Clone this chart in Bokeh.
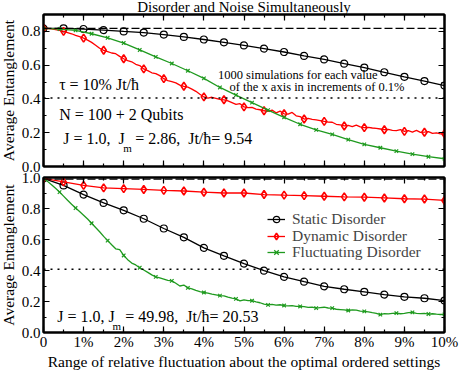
from bokeh.plotting import figure
from bokeh.models import (Range1d, FixedTicker, LinearAxis, Span, Label, Legend, LegendItem,
                          PrintfTickFormatter)
from bokeh.layouts import column
from bokeh.embed import file_html
from bokeh.resources import INLINE

# ---------------- data ----------------
title_text = "Disorder and Noise Simultaneously"
y_label = "Average Entanglement"
x_label = "Range of relative fluctuation about the optimal ordered settings"
x_tick_values = [0, 1, 2, 3, 4, 5, 6, 7, 8, 9, 10]
x_tick_labels = ["0", "1%", "2%", "3%", "4%", "5%", "6%", "7%", "8%", "9%", "10%"]
series_names = ["Static Disorder", "Dynamic Disorder", "Fluctuating Disorder"]

# x positions (% fluctuation)
x_half = [i * 0.5 for i in range(21)]
x_tenth = [i * 0.1 for i in range(101)]
x_fourtenth = [i * 0.4 for i in range(26)]

# ---- top panel (tau = 10% Jt/hbar, Jm = 2.86) ----
top_static = [0.818, 0.818, 0.814, 0.808, 0.800, 0.793, 0.781, 0.767, 0.752, 0.735, 0.717,
              0.698, 0.678, 0.655, 0.634, 0.609, 0.585, 0.558, 0.531, 0.506, 0.479]
top_dynamic = [0.818, 0.817, 0.815, 0.811, 0.806, 0.800, 0.793, 0.786, 0.777, 0.769,
               0.760, 0.748, 0.735, 0.718, 0.700, 0.688, 0.680, 0.672, 0.668, 0.652,
               0.638, 0.627, 0.620, 0.605, 0.598, 0.578, 0.568, 0.555, 0.550, 0.538,
               0.520, 0.508, 0.502, 0.495, 0.482, 0.475, 0.470, 0.458, 0.445, 0.428,
               0.412, 0.405, 0.410, 0.404, 0.397, 0.395, 0.388, 0.378, 0.368, 0.372,
               0.353, 0.348, 0.350, 0.340, 0.336, 0.330, 0.327, 0.334, 0.318, 0.328,
               0.312, 0.310, 0.320, 0.300, 0.295, 0.281, 0.285, 0.279, 0.276, 0.272,
               0.267, 0.263, 0.262, 0.250, 0.246, 0.240, 0.243, 0.236, 0.245, 0.235,
               0.230, 0.232, 0.228, 0.226, 0.222, 0.218, 0.220, 0.214, 0.212, 0.218,
               0.208, 0.212, 0.204, 0.214, 0.202, 0.203, 0.207, 0.196, 0.199, 0.193,
               0.194]
top_fluct = [0.818, 0.814, 0.806, 0.786, 0.762, 0.731, 0.690, 0.649, 0.610, 0.567, 0.522,
             0.468, 0.423, 0.378, 0.334, 0.291, 0.250, 0.217, 0.190, 0.159, 0.131, 0.111,
             0.091, 0.073, 0.058, 0.046]
top_ordered = 0.818
top_threshold = 0.405

# ---- bottom panel (Jm = 49.98) ----
bot_static = [0.995, 0.949, 0.890, 0.836, 0.788, 0.734, 0.671, 0.614, 0.546, 0.495, 0.445,
              0.399, 0.359, 0.328, 0.298, 0.279, 0.262, 0.245, 0.230, 0.221, 0.206]
bot_dynamic = [0.995, 0.972, 0.949, 0.933, 0.928, 0.923, 0.917, 0.913, 0.905, 0.900, 0.900,
               0.890, 0.886, 0.883, 0.879, 0.875, 0.873, 0.868, 0.863, 0.861, 0.852]
bot_fluct = [0.995, 0.975, 0.953, 0.930, 0.906, 0.880, 0.853, 0.827, 0.803, 0.780,
             0.757, 0.732, 0.705, 0.677, 0.650, 0.620, 0.593, 0.566, 0.540, 0.534,
             0.497, 0.470, 0.448, 0.436, 0.418, 0.403, 0.388, 0.372, 0.359, 0.352,
             0.344, 0.336, 0.333, 0.318, 0.300, 0.306, 0.288, 0.282, 0.272, 0.264,
             0.258, 0.254, 0.248, 0.243, 0.238, 0.236, 0.228, 0.222, 0.217, 0.204,
             0.210, 0.206, 0.205, 0.197, 0.192, 0.183, 0.178, 0.182, 0.176, 0.179,
             0.174, 0.172, 0.174, 0.169, 0.168, 0.167, 0.162, 0.164, 0.157, 0.160,
             0.163, 0.158, 0.157, 0.150, 0.148, 0.146, 0.142, 0.146, 0.144, 0.138,
             0.136, 0.133, 0.128, 0.124, 0.115, 0.122, 0.120, 0.124, 0.125, 0.121,
             0.123, 0.128, 0.130, 0.124, 0.122, 0.124, 0.119, 0.121, 0.118, 0.116,
             0.117]
bot_ordered = 0.99
bot_threshold = 0.408

FONT = "Liberation Serif"
BLACK = "#000000"
RED = "#ff0000"
GREEN = "#1f9a1f"
NB = "\u00a0"


def hidden_axis(ticker):
    return LinearAxis(ticker=ticker, major_label_text_font_size="1px",
                      major_label_text_color=None, major_label_standoff=0,
                      major_tick_in=6, major_tick_out=0, minor_tick_in=3, minor_tick_out=0,
                      axis_line_width=2, major_tick_line_width=1.2, minor_tick_line_width=1.2)


def style_axes(p, y_ticks, y_minor, show_x_labels):
    x_minor = [i * 0.5 for i in range(21)]
    p.xaxis.ticker = FixedTicker(ticks=x_tick_values, minor_ticks=x_minor)
    p.yaxis.ticker = FixedTicker(ticks=y_ticks, minor_ticks=y_minor)
    p.yaxis.formatter = PrintfTickFormatter(format="%.1f")
    p.xaxis.major_label_overrides = {v: s for v, s in zip(x_tick_values, x_tick_labels)}
    for ax in p.xaxis + p.yaxis:
        ax.major_tick_in = 6
        ax.major_tick_out = 0
        ax.minor_tick_in = 3
        ax.minor_tick_out = 0
        ax.axis_line_width = 2
        ax.major_tick_line_width = 1.2
        ax.minor_tick_line_width = 1.2
        ax.major_label_text_font = FONT
        ax.major_label_text_font_size = "15px"
        ax.major_label_text_color = "black"
        ax.axis_label_text_font = FONT
        ax.axis_label_text_font_size = "15.5px"
        ax.axis_label_text_font_style = "normal"
        ax.axis_label_text_color = "black"
    p.yaxis.major_label_standoff = 3
    p.yaxis.axis_label = y_label
    p.yaxis.axis_label_standoff = 2
    if show_x_labels:
        p.xaxis.major_label_standoff = 1
        p.xaxis.axis_label = x_label
        p.xaxis.axis_label_standoff = 0
    else:
        p.xaxis.major_label_text_font_size = "1px"
        p.xaxis.major_label_text_color = None
        p.xaxis.major_label_standoff = 0
    # mirrored ticks on top and right
    p.add_layout(hidden_axis(FixedTicker(ticks=x_tick_values, minor_ticks=x_minor)), "above")
    p.add_layout(hidden_axis(FixedTicker(ticks=y_ticks, minor_ticks=y_minor)), "right")
    p.xgrid.visible = False
    p.ygrid.visible = False
    p.outline_line_color = "black"
    p.outline_line_width = 2
    p.background_fill_color = "white"


def draw_series(p, xs, ys, step, color, marker, size, lw_marker):
    ln = p.line(xs, ys, line_color=color, line_width=1.3)
    sc = p.scatter(xs[::step], ys[::step], marker=marker, size=size, line_color=color,
                   fill_color=None, line_width=lw_marker)
    return ln, sc


def text(p, x, y, s, size="16px", align="left"):
    p.add_layout(Label(x=x, y=y, text=s, text_font=FONT, text_font_size=size,
                       text_baseline="middle", text_align=align, text_color="black"))


# ---------------- top figure ----------------
p1 = figure(width=463, height=181, output_backend="svg", toolbar_location=None,
            x_range=Range1d(0, 10), y_range=Range1d(0, 0.9),
            min_border_left=41, min_border_right=15, min_border_top=0, min_border_bottom=11)
p1.title.text = title_text
p1.title.align = "center"
p1.title.offset = 5
p1.title.standoff = 0
p1.title.text_font = FONT
p1.title.text_font_size = "15px"
p1.title.text_font_style = "normal"
p1.title.text_color = "black"
p1.border_fill_color = "white"
style_axes(p1, [0, 0.2, 0.4, 0.6, 0.8], [i * 0.1 for i in range(10)], False)
p1.add_layout(Span(location=top_ordered, dimension="width", line_color="black",
                   line_dash="8 3", line_width=1.2))
p1.add_layout(Span(location=top_threshold, dimension="width", line_color="black",
                   line_dash="2 5", line_width=1.5))
draw_series(p1, x_half, top_static, 1, BLACK, "circle", 7, 1.2)
draw_series(p1, x_tenth, top_dynamic, 5, RED, "diamond", 8, 1.6)
draw_series(p1, x_fourtenth, top_fluct, 1, GREEN, "x", 5, 1.2)

text(p1, 0.39, 0.484, "τ = 10% Jt/ħ")
text(p1, 0.39, 0.305, "N = 100 + 2 Qubits")
text(p1, 0.49, 0.163, "J = 1.0," + NB + " J")
text(p1, 1.99, 0.112, "m", size="11px")
text(p1, 2.285, 0.163, "= 2.86," + NB + " Jt/ħ= 9.54")
text(p1, 4.35, 0.540, "1000 simulations for each value", size="12.5px")
text(p1, 4.64, 0.471, "of the x axis in increments of 0.1%", size="12.5px")

# ---------------- bottom figure ----------------
p2 = figure(width=463, height=201, output_backend="svg", toolbar_location=None,
            x_range=Range1d(0, 10), y_range=Range1d(0, 1.0), title=None,
            min_border_left=41, min_border_right=15, min_border_top=6, min_border_bottom=33,
            margin=(-6, 0, 0, 0))
style_axes(p2, [0, 0.2, 0.4, 0.6, 0.8, 1.0], [i * 0.1 for i in range(11)], True)
p2.border_fill_color = None
p2.add_layout(Span(location=bot_ordered, dimension="width", line_color="black",
                   line_dash="8 3", line_width=1.2))
p2.add_layout(Span(location=bot_threshold, dimension="width", line_color="black",
                   line_dash="2 5", line_width=1.5))
l_s, s_s = draw_series(p2, x_half, bot_static, 1, BLACK, "circle", 7, 1.2)
l_d, s_d = draw_series(p2, x_half, bot_dynamic, 1, RED, "diamond", 8, 1.6)
l_f, s_f = draw_series(p2, x_tenth, bot_fluct, 4, GREEN, "x", 5, 1.2)

text(p2, 0.344, 0.104, "J = 1.0, J")
text(p2, 1.72, 0.042, "m", size="11px")
text(p2, 2.04, 0.104, "= 49.98," + NB + " Jt/ħ= 20.53")

# one legend per entry so the row pitch matches the reference
legend_rows = [(series_names[0], [l_s, s_s], 104),
               (series_names[1], [l_d, s_d], 87),
               (series_names[2], [l_f, s_f], 71)]
for name, rends, ypos in legend_rows:
    lg = Legend(items=[LegendItem(label=name, renderers=rends)],
                location=(224, ypos), label_text_font=FONT, label_text_font_size="15.5px",
                label_height=16, glyph_height=16, glyph_width=18, spacing=0, padding=2,
                margin=0, label_standoff=7, border_line_color=None,
                background_fill_alpha=0)
    p2.add_layout(lg)

layout = column(p1, p2, spacing=0, margin=(-4, 0, 0, -4))

open("out.html", "w").write(file_html(layout, INLINE))
